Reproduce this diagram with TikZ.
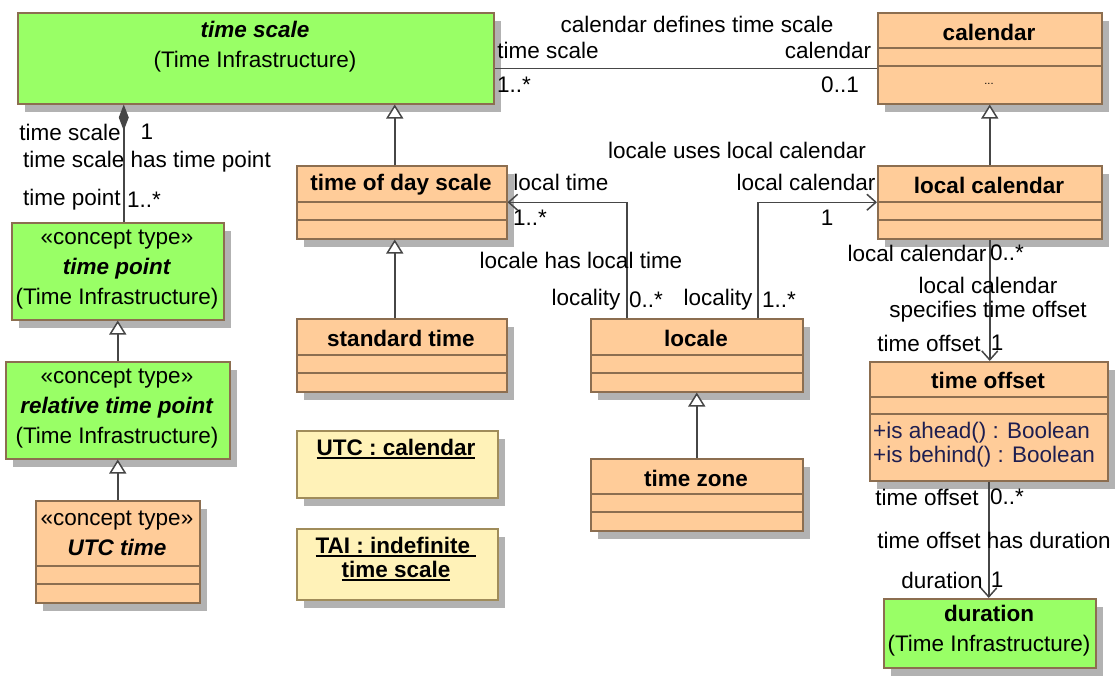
\documentclass[tikz,border=0pt]{standalone}
\usepackage{fontspec}
\setmainfont{Liberation Sans}
\usetikzlibrary{arrows.meta,shadows}

\definecolor{clsfill}{RGB}{255,204,153}
\definecolor{infrafill}{RGB}{153,255,102}
\definecolor{objfill}{RGB}{255,242,184}
\definecolor{boxline}{RGB}{140,110,80}
\definecolor{objline}{RGB}{160,140,90}
\definecolor{conn}{RGB}{70,70,70}
\definecolor{opcol}{RGB}{30,30,80}

\newsavebox\ulbox
\newcommand{\ulined}[1]{\sbox\ulbox{#1}\rlap{\rule[-4pt]{\wd\ulbox}{2pt}}\usebox\ulbox}

\tikzset{
  umlbox/.style={draw=boxline, line width=1.5pt, inner sep=0pt, anchor=north west,
    drop shadow={shadow xshift=7pt, shadow yshift=-8pt, fill=black!30, opacity=1}},
  cls/.style={umlbox, fill=clsfill},
  infra/.style={umlbox, fill=infrafill},
  obj/.style={umlbox, draw=objline, fill=objfill},
  compline/.style={draw=boxline, line width=1.5pt},
  txt/.style={inner sep=0pt, align=center},
  assoc/.style={draw=conn, line width=1.5pt},
  gen/.style={assoc, -{Triangle[open, length=14pt, width=17pt, fill=white]}},
  nav/.style={assoc, -{Straight Barb[length=9pt, width=16pt]}},
  comp/.style={assoc, -{Diamond[length=26pt, width=10pt, fill=conn]}},
}

\begin{document}
\begin{tikzpicture}[x=1pt, y=-1pt, font=\fontsize{22.5}{30}\selectfont]
  \useasboundingbox (0,0) rectangle (1115,675);
  % boxes
  \node[infra, minimum width=476pt, minimum height=91pt] (ts) at (17,12) {};
  \node[cls, minimum width=224pt, minimum height=91pt] (cal) at (877,12) {};
  \node[cls, minimum width=210pt, minimum height=73pt] (tods) at (296,165) {};
  \node[cls, minimum width=224pt, minimum height=73pt] (lc) at (877,165) {};
  \node[cls, minimum width=210pt, minimum height=73pt] (stdt) at (296,318) {};
  \node[cls, minimum width=212pt, minimum height=73pt] (loc) at (590,318) {};
  \node[cls, minimum width=212pt, minimum height=72pt] (tz) at (590,458) {};
  \node[obj, minimum width=201pt, minimum height=67pt] (utc) at (296,430) {};
  \node[obj, minimum width=201pt, minimum height=71pt] (tai) at (296,528) {};
  \node[infra, minimum width=212pt, minimum height=97pt] (tp) at (11,222) {};
  \node[infra, minimum width=224pt, minimum height=97pt] (rtp) at (5,361) {};
  \node[cls, minimum width=164pt, minimum height=102pt] (utct) at (35,500) {};
  \node[cls, minimum width=238pt, minimum height=119pt] (to) at (869,361) {};
  \node[infra, minimum width=212pt, minimum height=69pt] (du) at (883,598) {};
  % compartments
  \foreach \b/\d in {cal/36, cal/54, tods/37, tods/55, lc/37, lc/55, stdt/37, stdt/55,
      loc/37, loc/55, tz/36, tz/54, utct/66, utct/84, to/36, to/53}
    \draw[compline] ([yshift=-\d]\b.north west) -- ([yshift=-\d]\b.north east);

  % box texts
  \node[txt] (tsT) at (255,47) {\textbf{\textit{time scale}}\\(Time Infrastructure)};
  \node[txt] (calT) at (989,32) {\textbf{calendar}};
  \node[txt, font=\fontsize{11}{13}\selectfont] (calD) at (989,84) {...};
  \node[txt] (todsT) at (401,185) {\textbf{time of day scale}};
  \node[txt] (lcT) at (989,185) {\textbf{local calendar}};
  \node[txt] (stdtT) at (401,338) {\textbf{standard time}};
  \node[txt] (locT) at (696,338) {\textbf{locale}};
  \node[txt] (tzT) at (696,478) {\textbf{time zone}};
  \node[txt] (utcT) at (396,449) {\textbf{\ulined{UTC : calendar}}};
  \node[txt] (taiT) at (396,559) {\textbf{\ulined{TAI : indefinite\ }}\\[-6pt]\textbf{\ulined{time scale}}};
  \node[txt] (tpT) at (117,270) {«concept type»\\\textbf{\textit{time point}}\\(Time Infrastructure)};
  \node[txt] (rtpT) at (117,409) {«concept type»\\\textbf{\textit{relative time point}}\\(Time Infrastructure)};
  \node[txt] (utctT) at (117,533) {«concept type»\\\textbf{\textit{UTC time}}};
  \node[txt] (toT) at (988,380) {\textbf{time offset}};
  \node[txt, anchor=west, align=left, text=opcol] (toOps) at (873,445)
    {+is ahead() : Boolean\\[-6pt]+is behind() : Boolean};
  \node[txt] (duT) at (989,631) {\textbf{duration}\\(Time Infrastructure)};

  % generalizations
  \coordinate (todsTop) at ([xshift=-7]tods.north);
  \draw[gen] (todsTop) -- (todsTop |- ts.south);
  \draw[gen] ([xshift=-7]stdt.north) -- ([xshift=-7]tods.south);
  \draw[gen] (tz.north) -- (loc.south);
  \draw[gen] (lc.north) -- (cal.south);
  \draw[gen] (rtp.north) -- (tp.south);
  \draw[gen] (utct.north) -- (rtp.south);

  % time scale has time point
  \coordinate (tpTop) at ([xshift=6]tp.north);
  \draw[comp] (tpTop) -- (tpTop |- ts.south);
  \node[txt] (l1) at (70,132) {time scale};
  \node[txt] (l2) at (147,132) {1};
  \node[txt] (l3) at (147,162) {time scale has time point};
  \node[txt] (l4) at (72,200) {time point};
  \node[txt] (l5) at (144,200) {1..*};

  % calendar defines time scale
  \coordinate (tsR) at ([yshift=-10]ts.east);
  \draw[assoc] (tsR) -- (tsR -| cal.west);
  \node[txt] (l6) at (697,24) {calendar defines time scale};
  \node[txt] (l7) at (548,50) {time scale};
  \node[txt] (l8) at (828,50) {calendar};
  \node[txt] (l9) at (514,85) {1..*};
  \node[txt] (l10) at (840,85) {0..1};

  % locale has local time
  \coordinate (locA) at ([xshift=-70]loc.north);
  \draw[nav] (locA) |- (tods.east);
  \node[txt] (l11) at (561,182) {local time};
  \node[txt] (l12) at (530,218) {1..*};
  \node[txt] (l13) at (581,260) {locale has local time};
  \node[txt] (l14) at (586,300) {locality};
  \node[txt] (l15) at (646,300) {0..*};

  % locale uses local calendar
  \coordinate (locB) at ([xshift=61]loc.north);
  \draw[nav] (locB) |- (lc.west);
  \node[txt] (l16) at (737,150) {locale uses local calendar};
  \node[txt] (l17) at (806,182) {local calendar};
  \node[txt] (l18) at (827,218) {1};
  \node[txt] (l19) at (718,300) {locality};
  \node[txt] (l20) at (779,300) {1..*};

  % local calendar specifies time offset
  \draw[nav] (lc.south) -- (lc.south |- to.north);
  \node[txt] (l21) at (917,253) {local calendar};
  \node[txt] (l22) at (1007,253) {0..*};
  \node[txt] (l23) at (988,300) {local calendar\\[-6pt]specifies time offset};
  \node[txt] (l24) at (929,343) {time offset};
  \node[txt] (l25) at (997,343) {1};

  % time offset has duration
  \draw[nav] (to.south) -- (to.south |- du.north);
  \node[txt] (l26) at (927,497) {time offset};
  \node[txt] (l27) at (1007,497) {0..*};
  \node[txt] (l28) at (994,540) {time offset has duration};
  \node[txt] (l29) at (942,580) {duration};
  \node[txt] (l30) at (997,580) {1};
\end{tikzpicture}
\end{document}
